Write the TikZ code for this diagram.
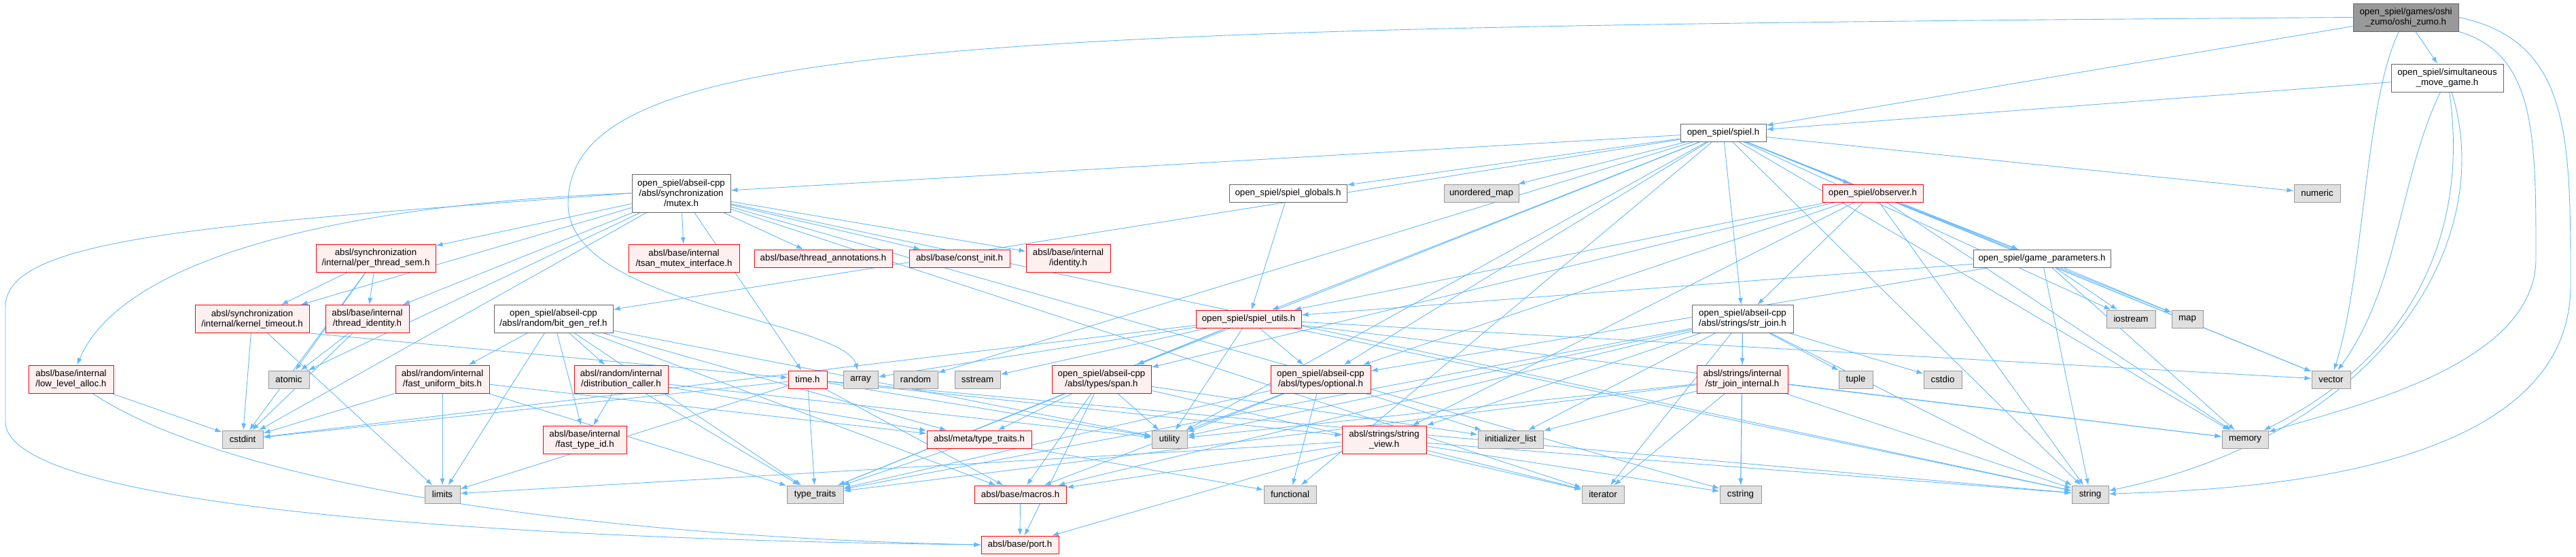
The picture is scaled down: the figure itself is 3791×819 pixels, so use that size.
\documentclass[tikz,border=0pt]{standalone}
\usepackage{fontspec}
\setmainfont{Liberation Sans}
\usetikzlibrary{arrows.meta}

\definecolor{edgeblue}{HTML}{63B8FF}
\definecolor{nodedraw}{HTML}{666666}
\definecolor{rootfill}{HTML}{999999}
\definecolor{truncdraw}{HTML}{FF0000}
\definecolor{truncfill}{HTML}{FFF0F0}
\definecolor{sysdraw}{HTML}{999999}
\definecolor{sysfill}{HTML}{E0E0E0}

\pgfdeclarelayer{edges}
\pgfsetlayers{edges,main}

\tikzset{
  box/.style={rectangle, inner sep=1pt, minimum height=26pt, align=center, line width=1pt, font=\fontsize{13.3}{15}\selectfont},
  file/.style={box, draw=nodedraw, fill=white},
  root/.style={box, draw=nodedraw, fill=rootfill},
  trunc/.style={box, draw=truncdraw, fill=truncfill},
  sys/.style={box, draw=sysdraw, fill=sysfill},
  two/.style={minimum height=41pt},
  three/.style={minimum height=56pt},
  wd/.style={minimum width=#1pt},
  inc/.style={-{Latex[length=10pt,width=7pt]}, draw=edgeblue, line width=0.9pt}
}

\begin{document}
\begin{tikzpicture}[x=1pt,y=-1pt,every edge/.style={inc}]
\useasboundingbox (0,0) rectangle (3791,819);

    \node[root, two, wd=155] (oshi) at (3540.5,25.5) {open\_spiel/games/oshi\\\_zumo/oshi\_zumo.h};
    \node[file, two, wd=165] (simgame) at (3601.5,114.5) {open\_spiel/simultaneous\\\_move\_game.h};
    \node[file, wd=126] (spiel) at (2536,195) {open\_spiel/spiel.h};
    \node[file, three, wd=145] (mutex) at (1002.5,284) {open\_spiel/abseil-cpp\\/absl/synchronization\\/mutex.h};
    \node[file, wd=173] (globals) at (1895.5,284) {open\_spiel/spiel\_globals.h};
    \node[sys, wd=110] (umap) at (2180,284) {unordered\_map};
    \node[trunc, wd=148] (observer) at (2756,284) {open\_spiel/observer.h};
    \node[sys, wd=68] (numeric) at (3410,284) {numeric};
    \node[trunc, two, wd=163] (tsan) at (1006.5,380) {absl/base/internal\\/tsan\_mutex\_interface.h};
    \node[trunc, wd=203] (annot) at (1211.5,380) {absl/base/thread\_annotations.h};
    \node[trunc, wd=148] (constinit) at (1412,380) {absl/base/const\_init.h};
    \node[trunc, two, wd=124] (identity) at (1572,380) {absl/base/internal\\/identity.h};
    \node[trunc, two, wd=176] (pts) at (553,380) {absl/synchronization\\/internal/per\_thread\_sem.h};
    \node[file, wd=202] (params) at (3005,380.5) {open\_spiel/game\_parameters.h};
    \node[trunc, two, wd=168] (ktimeout) at (371,469) {absl/synchronization\\/internal/kernel\_timeout.h};
    \node[trunc, two, wd=123] (tident) at (540.5,469) {absl/base/internal\\/thread\_identity.h};
    \node[file, two, wd=175] (bitgen) at (814.5,469) {open\_spiel/abseil-cpp\\/absl/random/bit\_gen\_ref.h};
    \node[trunc, wd=155] (utils) at (1837.5,469) {open\_spiel/spiel\_utils.h};
    \node[file, two, wd=149] (strjoin) at (2564.5,469) {open\_spiel/abseil-cpp\\/absl/strings/str\_join.h};
    \node[sys, wd=72] (iostream) at (3136,469) {iostream};
    \node[sys, wd=46] (map) at (3219,469) {map};
    \node[trunc, two, wd=125] (lowalloc) at (104.5,557.5) {absl/base/internal\\/low\_level\_alloc.h};
    \node[sys, wd=60] (atomic) at (425,558) {atomic};
    \node[trunc, two, wd=138] (fub) at (651,557.5) {absl/random/internal\\/fast\_uniform\_bits.h};
    \node[trunc, two, wd=138] (distcall) at (914,557.5) {absl/random/internal\\/distribution\_caller.h};
    \node[trunc, wd=57] (timeh) at (1188.5,558) {time.h};
    \node[sys, wd=51] (array) at (1266.5,558) {array};
    \node[sys, wd=65] (random) at (1347.5,558) {random};
    \node[sys, wd=67] (sstream) at (1438.5,558) {sstream};
    \node[trunc, two, wd=146] (span) at (1621,557.5) {open\_spiel/abseil-cpp\\/absl/types/span.h};
    \node[trunc, two, wd=147] (optional) at (1943.5,557.5) {open\_spiel/abseil-cpp\\/absl/types/optional.h};
    \node[trunc, two, wd=134] (sji) at (2564,557.5) {absl/strings/internal\\/str\_join\_internal.h};
    \node[sys, wd=50] (tuple) at (2731,558) {tuple};
    \node[sys, wd=56] (cstdio) at (2859,558) {cstdio};
    \node[sys, wd=57] (vector) at (3430.5,558) {vector};
    \node[sys, wd=60] (cstdint) at (357,646) {cstdint};
    \node[trunc, two, wd=123] (fasttype) at (860.5,646.5) {absl/base/internal\\/fast\_type\_id.h};
    \node[trunc, wd=154] (metatt) at (1441,646) {absl/meta/type\_traits.h};
    \node[sys, wd=52] (utility) at (1721,646) {utility};
    \node[trunc, two, wd=124] (strview) at (2037,646.5) {absl/strings/string\\\_view.h};
    \node[sys, wd=96] (initlist) at (2223,646) {initializer\_list};
    \node[sys, wd=68] (memory) at (3304,646) {memory};
    \node[sys, wd=52] (limits) at (651,727) {limits};
    \node[sys, wd=83] (typetraits) at (1199.5,727) {type\_traits};
    \node[trunc, wd=135] (macros) at (1501.5,727) {absl/base/macros.h};
    \node[sys, wd=77] (functional) at (1898.5,727) {functional};
    \node[sys, wd=62] (iterator) at (2359,727) {iterator};
    \node[sys, wd=61] (cstring) at (2561.5,727) {cstring};
    \node[sys, wd=54] (string) at (3076,727) {string};
    \node[trunc, wd=114] (port) at (1501,801) {absl/base/port.h};

\begin{pgfonlayer}{edges}
    % oshi_zumo.h
    \path (oshi) edge (simgame)
          (oshi) edge (spiel);
    \draw[inc] (oshi) .. controls (3480,150) and (3480,400) .. (vector);
    \draw[inc] (oshi.west) .. controls (1400,40) and (836,60) .. (836,300) .. controls (836,450) and (1240,470) .. (array);
    \draw[inc] (oshi.south east) .. controls (3732,80) and (3732,200) .. (3732,380) .. controls (3732,540) and (3450,600) .. (memory);
    \draw[inc] (oshi.east) .. controls (3783,60) and (3783,200) .. (3783,420) .. controls (3783,700) and (3300,720) .. (string);
    % simultaneous_move_game.h
    \path (simgame) edge (spiel);
    \draw[inc] (simgame) .. controls (3531,260) and (3531,420) .. (vector);
    \draw[inc] (simgame) .. controls (3633,330) and (3560,520) .. (memory);
    \draw[inc] (simgame) .. controls (3678,360) and (3500,640) .. (string);
    % spiel.h
    \path (spiel) edge (mutex)
          (spiel) edge (globals)
          (spiel) edge (umap)
          (spiel) edge (observer)
          (spiel) edge (numeric)
          (spiel) edge (bitgen)
          (spiel) edge (utils)
          (spiel) edge (strjoin)
          (spiel) edge (span)
          (spiel) edge (optional)
          (spiel) edge (params)
          (spiel) edge (iostream)
          (spiel) edge (map)
          (spiel) edge (memory)
          (spiel) edge (vector)
          (spiel) edge (string)
          (spiel) edge (utility)
          (spiel) edge (functional)
          (spiel) edge (random);
    % mutex.h
    \path (mutex) edge (tsan)
          (mutex) edge (annot)
          (mutex) edge (constinit)
          (mutex) edge (identity)
          (mutex) edge (pts)
          (mutex) edge (ktimeout)
          (mutex) edge (tident)
          (mutex) edge (atomic)
          (mutex) edge (cstdint)
          (mutex) edge (timeh)
          (mutex) edge (cstring)
          (mutex) edge (iterator)
          (mutex) edge (string);
    \draw[inc] (mutex.west) .. controls (500,300) and (180,380) .. (lowalloc);
    \draw[inc] (mutex.west) .. controls (300,330) and (10,350) .. (8,450) -- (8,620) .. controls (8,760) and (900,795) .. (port.west);
    % absl internals
    \path (pts) edge (ktimeout)
          (pts) edge (tident)
          (pts) edge (atomic)
          (pts) edge (cstdint)
          (ktimeout) edge (cstdint)
          (ktimeout) edge (limits)
          (ktimeout.south east) edge (timeh)
          (tident) edge (atomic)
          (tident) edge (cstdint)
          (lowalloc) edge (cstdint);
    \draw[inc] (lowalloc) .. controls (350,720) and (900,790) .. (port.west);
    % bit_gen_ref.h
    \path (bitgen) edge (fub)
          (bitgen) edge (distcall)
          (bitgen) edge (fasttype)
          (bitgen) edge (limits)
          (bitgen) edge (typetraits)
          (bitgen) edge (utility)
          (bitgen) edge (macros)
          (bitgen) edge (metatt)
          (fub) edge (cstdint)
          (fub) edge (limits)
          (fub) edge (typetraits)
          (fub) edge (metatt)
          (distcall) edge (fasttype)
          (distcall) edge (metatt)
          (distcall) edge (typetraits)
          (distcall) edge (utility);
    % time.h
    \path (timeh) edge (cstdint)
          (timeh) edge (limits)
          (timeh) edge (typetraits)
          (timeh) edge (macros)
          (timeh) edge (utility)
          (timeh) edge (string)
          (timeh) edge (strview);
    % spiel_globals.h, spiel_utils.h
    \path (globals) edge (utils)
          (utils) edge (array)
          (utils) edge (sstream)
          (utils) edge (span)
          (utils) edge (optional)
          (utils) edge (utility)
          (utils) edge (typetraits)
          (utils) edge (cstdint)
          (utils) edge (vector)
          (utils) edge (string)
          (utils) edge (memory);
    % observer.h, game_parameters.h
    \path (observer) edge (params)
          (observer) edge (utils)
          (observer) edge (strjoin)
          (observer) edge (span)
          (observer) edge (optional)
          (observer) edge (strview)
          (observer) edge (memory)
          (observer) edge (string)
          (observer) edge (vector)
          (params) edge (iostream)
          (params) edge (map)
          (params) edge (memory)
          (params) edge (string)
          (params) edge (utils)
          (params) edge (optional);
    % span.h, optional.h
    \path (span) edge (metatt)
          (span) edge (typetraits)
          (span) edge (macros)
          (span) edge (port)
          (span) edge (utility)
          (span) edge (initlist)
          (span) edge (iterator)
          (optional) edge (functional)
          (optional) edge (initlist)
          (optional) edge (utility)
          (optional) edge (typetraits)
          (optional) edge (macros);
    % meta/type_traits.h, macros.h, string_view.h
    \path (metatt) edge (typetraits)
          (metatt) edge (functional)
          (macros) edge (port)
          (strview) edge (iterator)
          (strview) edge (cstring)
          (strview) edge (string)
          (strview) edge (port)
          (strview) edge (macros)
          (strview) edge (limits);
    % str_join.h, str_join_internal.h
    \path (strjoin) edge (sji)
          (strjoin) edge (tuple)
          (strjoin) edge (cstdio)
          (strjoin) edge (strview)
          (strjoin) edge (initlist)
          (strjoin) edge (iterator)
          (strjoin) edge (cstring)
          (strjoin) edge (string)
          (strjoin) edge (typetraits)
          (strjoin) edge (utility)
          (strjoin) edge (macros)
          (sji) edge (iterator)
          (sji) edge (cstring)
          (sji) edge (string)
          (sji) edge (memory)
          (sji) edge (initlist)
          (sji) edge (utility)
          (sji) edge (typetraits);
\end{pgfonlayer}
\end{tikzpicture}
\end{document}
